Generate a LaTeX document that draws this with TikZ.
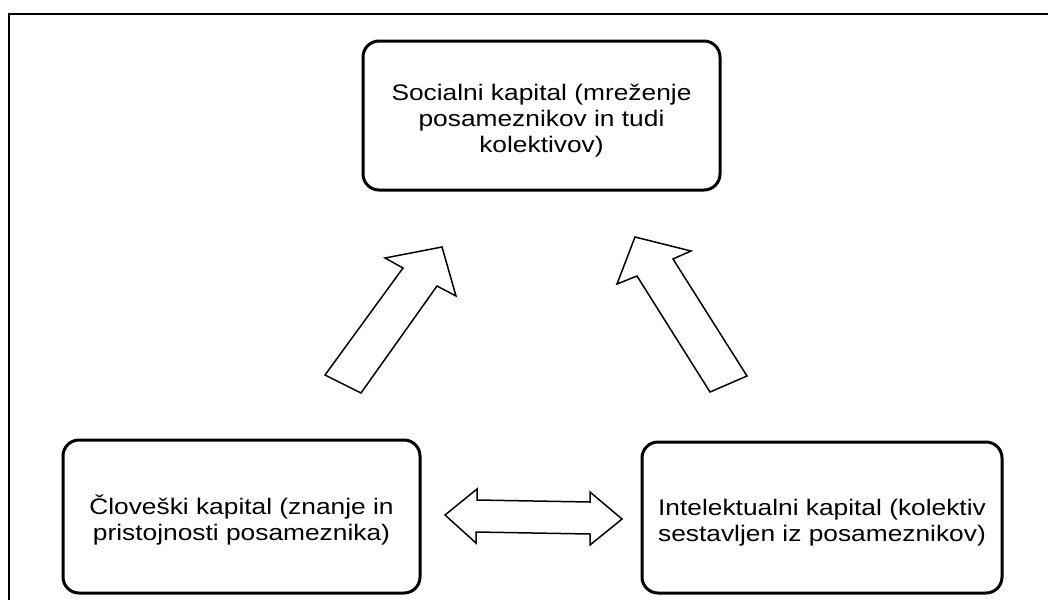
\documentclass[tikz,border=0pt]{standalone}
\usepackage{fontspec}
\setmainfont[FakeStretch=1.17]{Liberation Sans}
\begin{document}
\begin{tikzpicture}[x=1pt,y=-1pt,
  capbox/.style={draw=black, line width=3pt, rounded corners=16pt, fill=white,
    align=center, inner sep=0pt, font=\fontsize{22.5}{26}\selectfont},
  blockarrow/.style={draw=black, line width=1.5pt, fill=white, line join=miter}]
  \useasboundingbox (0,0) rectangle (1048,600);
  % outer frame, open to the right and bottom
  \draw[line width=2.2pt] (9,600) -- (9,14) -- (1048,14);

  % the three kinds of capital (an empty first line sets the text a little low)
  \node[capbox, minimum width=357pt, minimum height=149pt] (social) at (541.5,115.5)
    {\mbox{}\\Socialni kapital (mreženje\\posameznikov in tudi\\kolektivov)};
  \node[capbox, minimum width=357pt, minimum height=153pt] (human) at (241.5,516.5)
    {\mbox{}\\Človeški kapital (znanje in\\pristojnosti posameznika)};
  \node[capbox, minimum width=360pt, minimum height=151pt] (intel) at (822,517.5)
    {\mbox{}\\Intelektualni kapital (kolektiv\\sestavljen iz posameznikov)};

  % block arrows between them
  \draw[blockarrow] (325,375) -- (361,393) -- (437,286) -- (456,296) -- (442,247)
    -- (385,258) -- (403,268) -- cycle;
  \draw[blockarrow] (710,392) -- (747,376) -- (673,259) -- (691,251) -- (635,237)
    -- (617,284) -- (637,276) -- cycle;
  \draw[blockarrow] (445,515) -- (477,489) -- (477,500) -- (590,502) -- (590,492)
    -- (622,519) -- (590,545) -- (590,534) -- (476,532) -- (476,543) -- cycle;
\end{tikzpicture}
\end{document}
